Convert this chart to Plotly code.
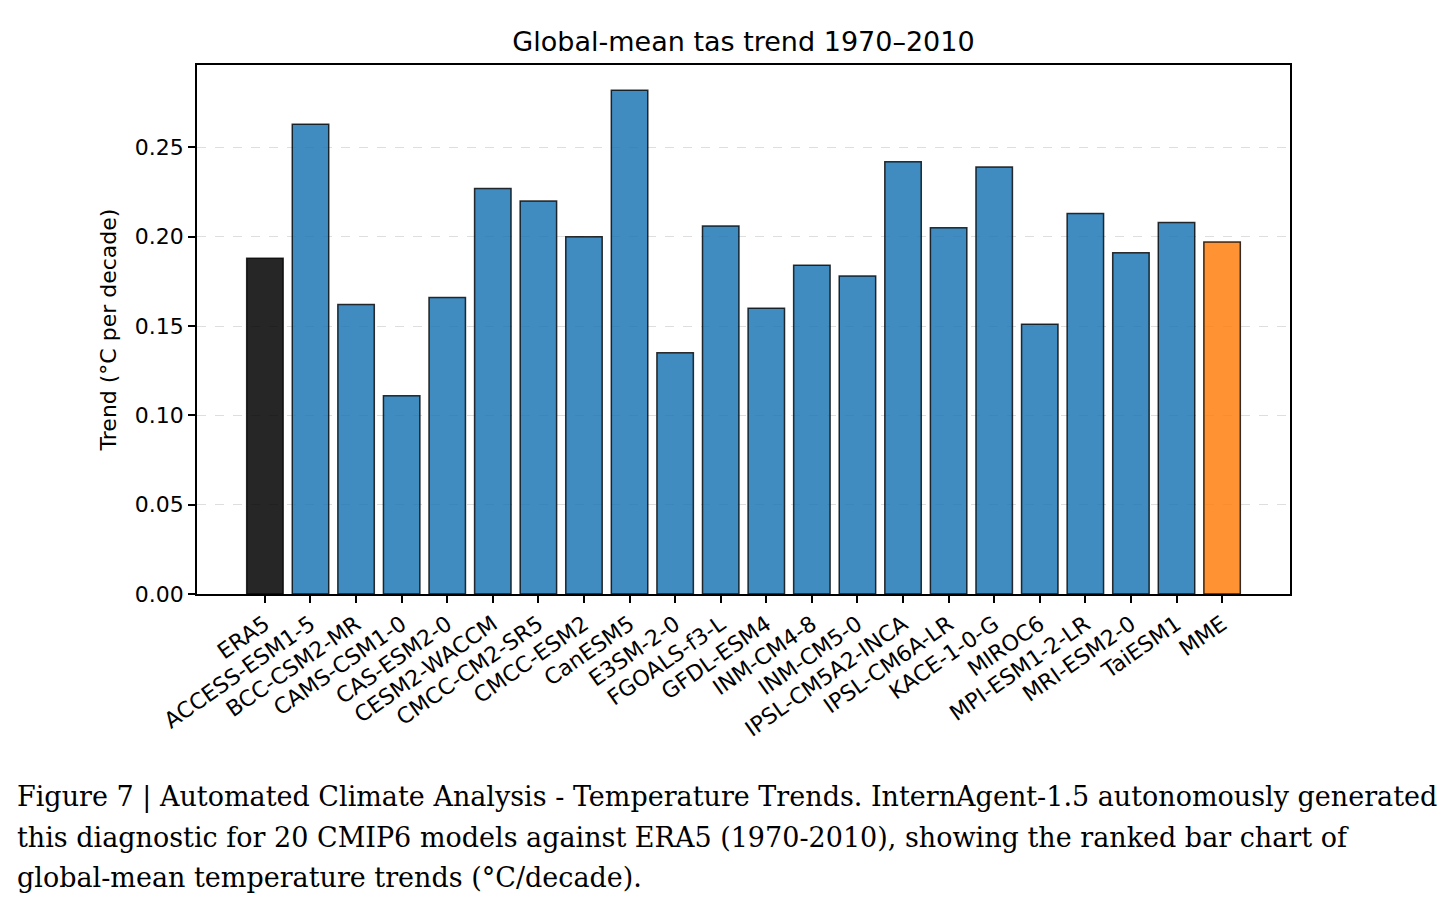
import plotly.graph_objects as go

models = ["ERA5", "ACCESS-ESM1-5", "BCC-CSM2-MR", "CAMS-CSM1-0", "CAS-ESM2-0", "CESM2-WACCM",
          "CMCC-CM2-SR5", "CMCC-ESM2", "CanESM5", "E3SM-2-0", "FGOALS-f3-L", "GFDL-ESM4",
          "INM-CM4-8", "INM-CM5-0", "IPSL-CM5A2-INCA", "IPSL-CM6A-LR", "KACE-1-0-G", "MIROC6",
          "MPI-ESM1-2-LR", "MRI-ESM2-0", "TaiESM1", "MME"]
trends = [0.188, 0.263, 0.162, 0.111, 0.166, 0.227, 0.220, 0.200, 0.282, 0.135, 0.206, 0.160,
          0.184, 0.178, 0.242, 0.205, 0.239, 0.151, 0.213, 0.191, 0.208, 0.197]
y_ticks = [0.0, 0.05, 0.10, 0.15, 0.20, 0.25]

colors = []
for m in models:
    if m == "ERA5":
        colors.append("rgba(0,0,0,0.85)")
    elif m == "MME":
        colors.append("rgba(255,127,14,0.85)")
    else:
        colors.append("rgba(31,119,180,0.85)")

x_idx = list(range(len(models)))
fig = go.Figure(go.Bar(
    x=x_idx, y=trends, width=0.8,
    marker=dict(color=colors, line=dict(color="rgba(0,0,0,0.8)", width=1.5)),
))

ymax = max(trends) * 1.05
fig.update_layout(
    width=1442, height=903,
    margin=dict(l=197, r=152, t=65, b=309),
    paper_bgcolor="white", plot_bgcolor="white",
    font=dict(family="DejaVu Sans", color="black", size=22),
    showlegend=False,
    title=dict(text="Global-mean tas trend 1970–2010", x=(197 + 546.5) / 1442, xanchor="center",
               y=1 - 42 / 903, yanchor="middle", font=dict(size=27, family="DejaVu Sans")),
)
fig.update_xaxes(
    range=[-1.49, len(models) - 1 + 1.49],
    tickmode="array", tickvals=x_idx, ticktext=models, tickangle=-35,
    ticks="outside", ticklen=7, tickwidth=1.5, tickcolor="black",
    showline=True, linecolor="black", linewidth=1.5, mirror=True,
    showgrid=False, zeroline=False, tickfont=dict(size=22),
)
fig.update_yaxes(
    range=[0, ymax],
    tickmode="array", tickvals=y_ticks, tickformat=".2f",
    ticks="outside", ticklen=7, tickwidth=1.5, tickcolor="black",
    showline=True, linecolor="black", linewidth=1.5, mirror=True,
    showgrid=True, gridcolor="rgba(200,200,200,0.6)", griddash="dash", gridwidth=1,
    zeroline=False, tickfont=dict(size=22),
    title=dict(text="Trend (°C per decade)", font=dict(size=22), standoff=12),
)

caption = [
    "Figure 7 | Automated Climate Analysis - Temperature Trends. InternAgent-1.5 autonomously generated",
    "this diagnostic for 20 CMIP6 models against ERA5 (1970-2010), showing the ranked bar chart of",
    "global-mean temperature trends (°C/decade).",
]
for i, line in enumerate(caption):
    fig.add_annotation(
        text=line, xref="paper", yref="paper",
        x=-(197 - 15) / (1442 - 197 - 152), xanchor="left",
        y=-(797 + 40 * i - 594) / (903 - 65 - 309), yanchor="middle",
        showarrow=False, font=dict(family="DejaVu Serif", size=27, color="black"),
    )

fig.write_html("out.html")
